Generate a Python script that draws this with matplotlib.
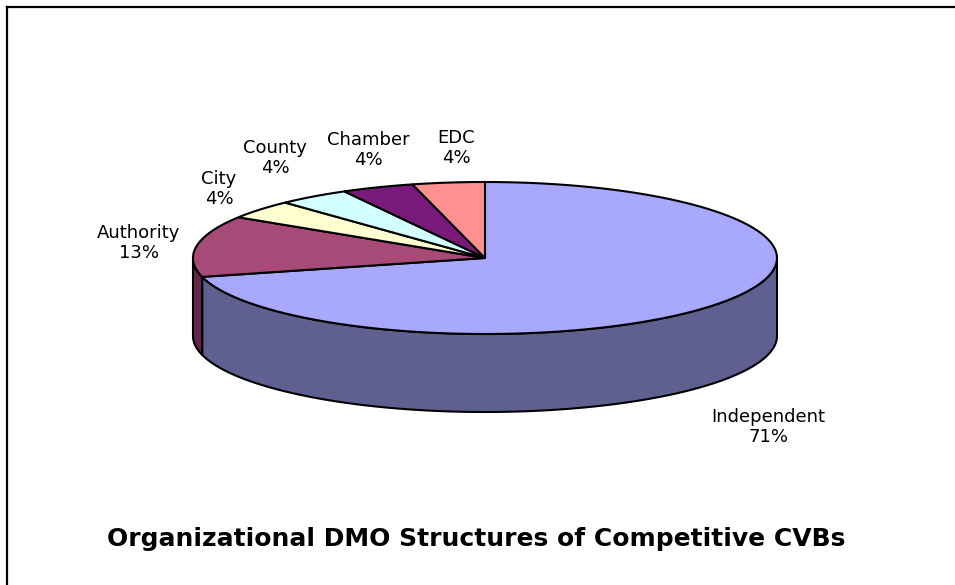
import numpy as np
import matplotlib.pyplot as plt
from matplotlib.patches import Polygon
from matplotlib.lines import Line2D

# Organizational structures, share of CVBs (%)
categories = ["Independent", "Authority", "City", "County", "Chamber", "EDC"]
shares = [71, 13, 4, 4, 4, 4]
top_colors = ["#A8A8FF", "#A84A78", "#FFFFD2", "#D2FFFF", "#7A1A7A", "#FF9090"]
side_colors = ["#606090", "#602848", "#A0A080", "#80A0A0", "#4A104A", "#A05858"]
title = "Organizational DMO Structures of Competitive CVBs"

# pie geometry in pixel units (y grows downward)
cx, cy = 485, 258
rx, ry = 292, 76
depth = 78
label_pos = [(768, 427), (139, 243), (219, 189), (275, 158), (368, 150), (456, 148)]


def ellipse_pts(a0, a1, dy=0, n=120):
    t = np.radians(np.linspace(a0, a1, n))
    return np.column_stack([cx + rx * np.cos(t), cy - ry * np.sin(t) + dy])


fig = plt.figure(figsize=(9.55, 5.85), dpi=100)
ax = fig.add_axes([0, 0, 1, 1])
ax.set_xlim(0, 955)
ax.set_ylim(585, 0)
ax.axis("off")

# slices run clockwise from 12 o'clock
total = float(sum(shares))
starts = []
a = 90.0
for v in shares:
    span = 360.0 * v / total
    starts.append((a - span, a))
    a -= span

# side walls first (only the front half, 180..360 deg, is visible)
for (a0, a1), col in zip(starts, side_colors):
    for shift in (0, 360, -360):
        lo = max(a0 + shift, 180)
        hi = min(a1 + shift, 360)
        if hi > lo:
            top = ellipse_pts(lo, hi)
            bot = ellipse_pts(hi, lo, dy=depth)
            ax.add_patch(Polygon(np.vstack([top, bot]), closed=True,
                                 facecolor=col, edgecolor="black", lw=1.5))

# top faces
for (a0, a1), col in zip(starts, top_colors):
    pts = np.vstack([[cx, cy], ellipse_pts(a0, a1)])
    ax.add_patch(Polygon(pts, closed=True, facecolor=col,
                         edgecolor="black", lw=1.5, joinstyle="miter"))

for name, v, (x, y) in zip(categories, shares, label_pos):
    ax.text(x, y, f"{name}\n{v}%", ha="center", va="center",
            fontsize=13, linespacing=1.12, color="black")

ax.text(476, 546, title, ha="center", va="baseline",
        fontsize=18, fontweight="bold", family="DejaVu Sans")

# chart border (open on the right and bottom)
fig.add_artist(Line2D([6.5 / 955, 1], [1 - 6.5 / 585, 1 - 6.5 / 585],
                      color="black", lw=1.6, transform=fig.transFigure))
fig.add_artist(Line2D([6.5 / 955, 6.5 / 955], [0, 1 - 6.5 / 585],
                      color="black", lw=1.6, transform=fig.transFigure))

fig.savefig("out.png", dpi=100, facecolor="white")
